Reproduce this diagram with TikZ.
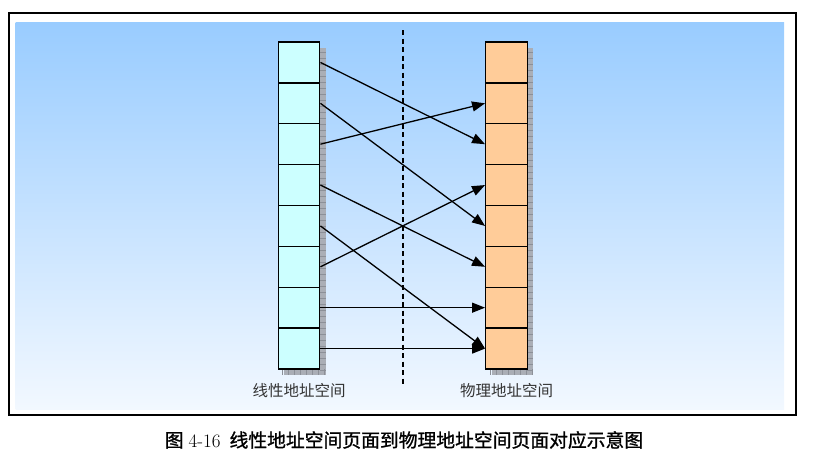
\documentclass[tikz,border=0pt]{standalone}
\usepackage{fontspec}
\newfontfamily\cjk{Noto Sans CJK SC}
\newfontfamily\cjkb{Noto Sans CJK SC}[FakeBold=1.2]
\usetikzlibrary{arrows.meta}
\definecolor{topb}{RGB}{153,204,255}
\definecolor{botb}{RGB}{242,248,255}
\definecolor{lfill}{RGB}{204,255,255}
\definecolor{rfill}{RGB}{255,204,153}
\definecolor{shadowc}{RGB}{170,174,182}
\definecolor{shadowl}{RGB}{140,144,152}
\definecolor{labc}{RGB}{51,51,51}
\tikzset{
  cellbox/.style={draw=black, line width=1.4pt, inner sep=0pt, minimum width=41.5pt, minimum height=40.875pt},
  lcell/.style={cellbox, fill=lfill},
  rcell/.style={cellbox, fill=rfill},
  conn/.style={-{Triangle[length=13pt,width=10pt]}, line width=1.3pt, black},
  divider/.style={dash pattern=on 5pt off 3.5pt, line width=1.3pt, black},
  lab/.style={font=\cjk\fontsize{15.5}{18}\selectfont, text=labc, inner sep=0pt},
  caption/.style={font=\cjkb\fontsize{18.8}{22}\selectfont, text=black, inner sep=0pt},
}
\begin{document}
\begin{tikzpicture}[x=1pt,y=-1pt]
\useasboundingbox (0,0) rectangle (813,458);
% frame and background
\draw[line width=2pt, black] (8.5,13) rectangle (796,415);
\shade[top color=topb, bottom color=botb] (15.5,22) rectangle (784,409);
% shadows
\foreach \sx in {278.25,485.75}{
  \fill[shadowc] ({\sx+6},48) rectangle ({\sx+47.5},375);
  \foreach \yy in {52,58,...,372} \draw[shadowl, line width=0.5pt] ({\sx+41.5},\yy) -- ({\sx+47.5},\yy);
  \foreach \xx in {4,10,...,46} \draw[shadowl, line width=0.5pt] ({\sx+\xx},369) -- ({\sx+\xx},375);
}
% cells
\foreach \i in {0,...,7}{
  \node[lcell] (L\i) at (299,{42+40.875*\i+20.4375}) {};
  \node[rcell] (R\i) at (506.5,{42+40.875*\i+20.4375}) {};
}
% divider
\coordinate (dtop) at (403,30);
\coordinate (dbot) at (403,386);
\draw[divider] (dtop) -- (dbot);
% connectors
\draw[conn] (L0.east) -- (R2.west);
\draw[conn] (L1.east) -- (R4.west);
\draw[conn] (L2.east) -- (R1.west);
\draw[conn] (L3.east) -- (R5.west);
\draw[conn] (L4.east) -- (R7.west);
\draw[conn] (L5.east) -- (R3.west);
\draw[conn] (L6.east) -- (R6.west);
\draw[conn] (L7.east) -- (R7.west);
% labels
\node[lab] (llab) at (299,391) {线性地址空间};
\node[lab] (rlab) at (506.5,391) {物理地址空间};
\node[caption] (cap) at (404,440) {图\hspace{5pt}{\rmfamily\fontsize{19}{22}\selectfont 4-16}\hspace{9pt}线性地址空间页面到物理地址空间页面对应示意图};
\end{tikzpicture}
\end{document}
